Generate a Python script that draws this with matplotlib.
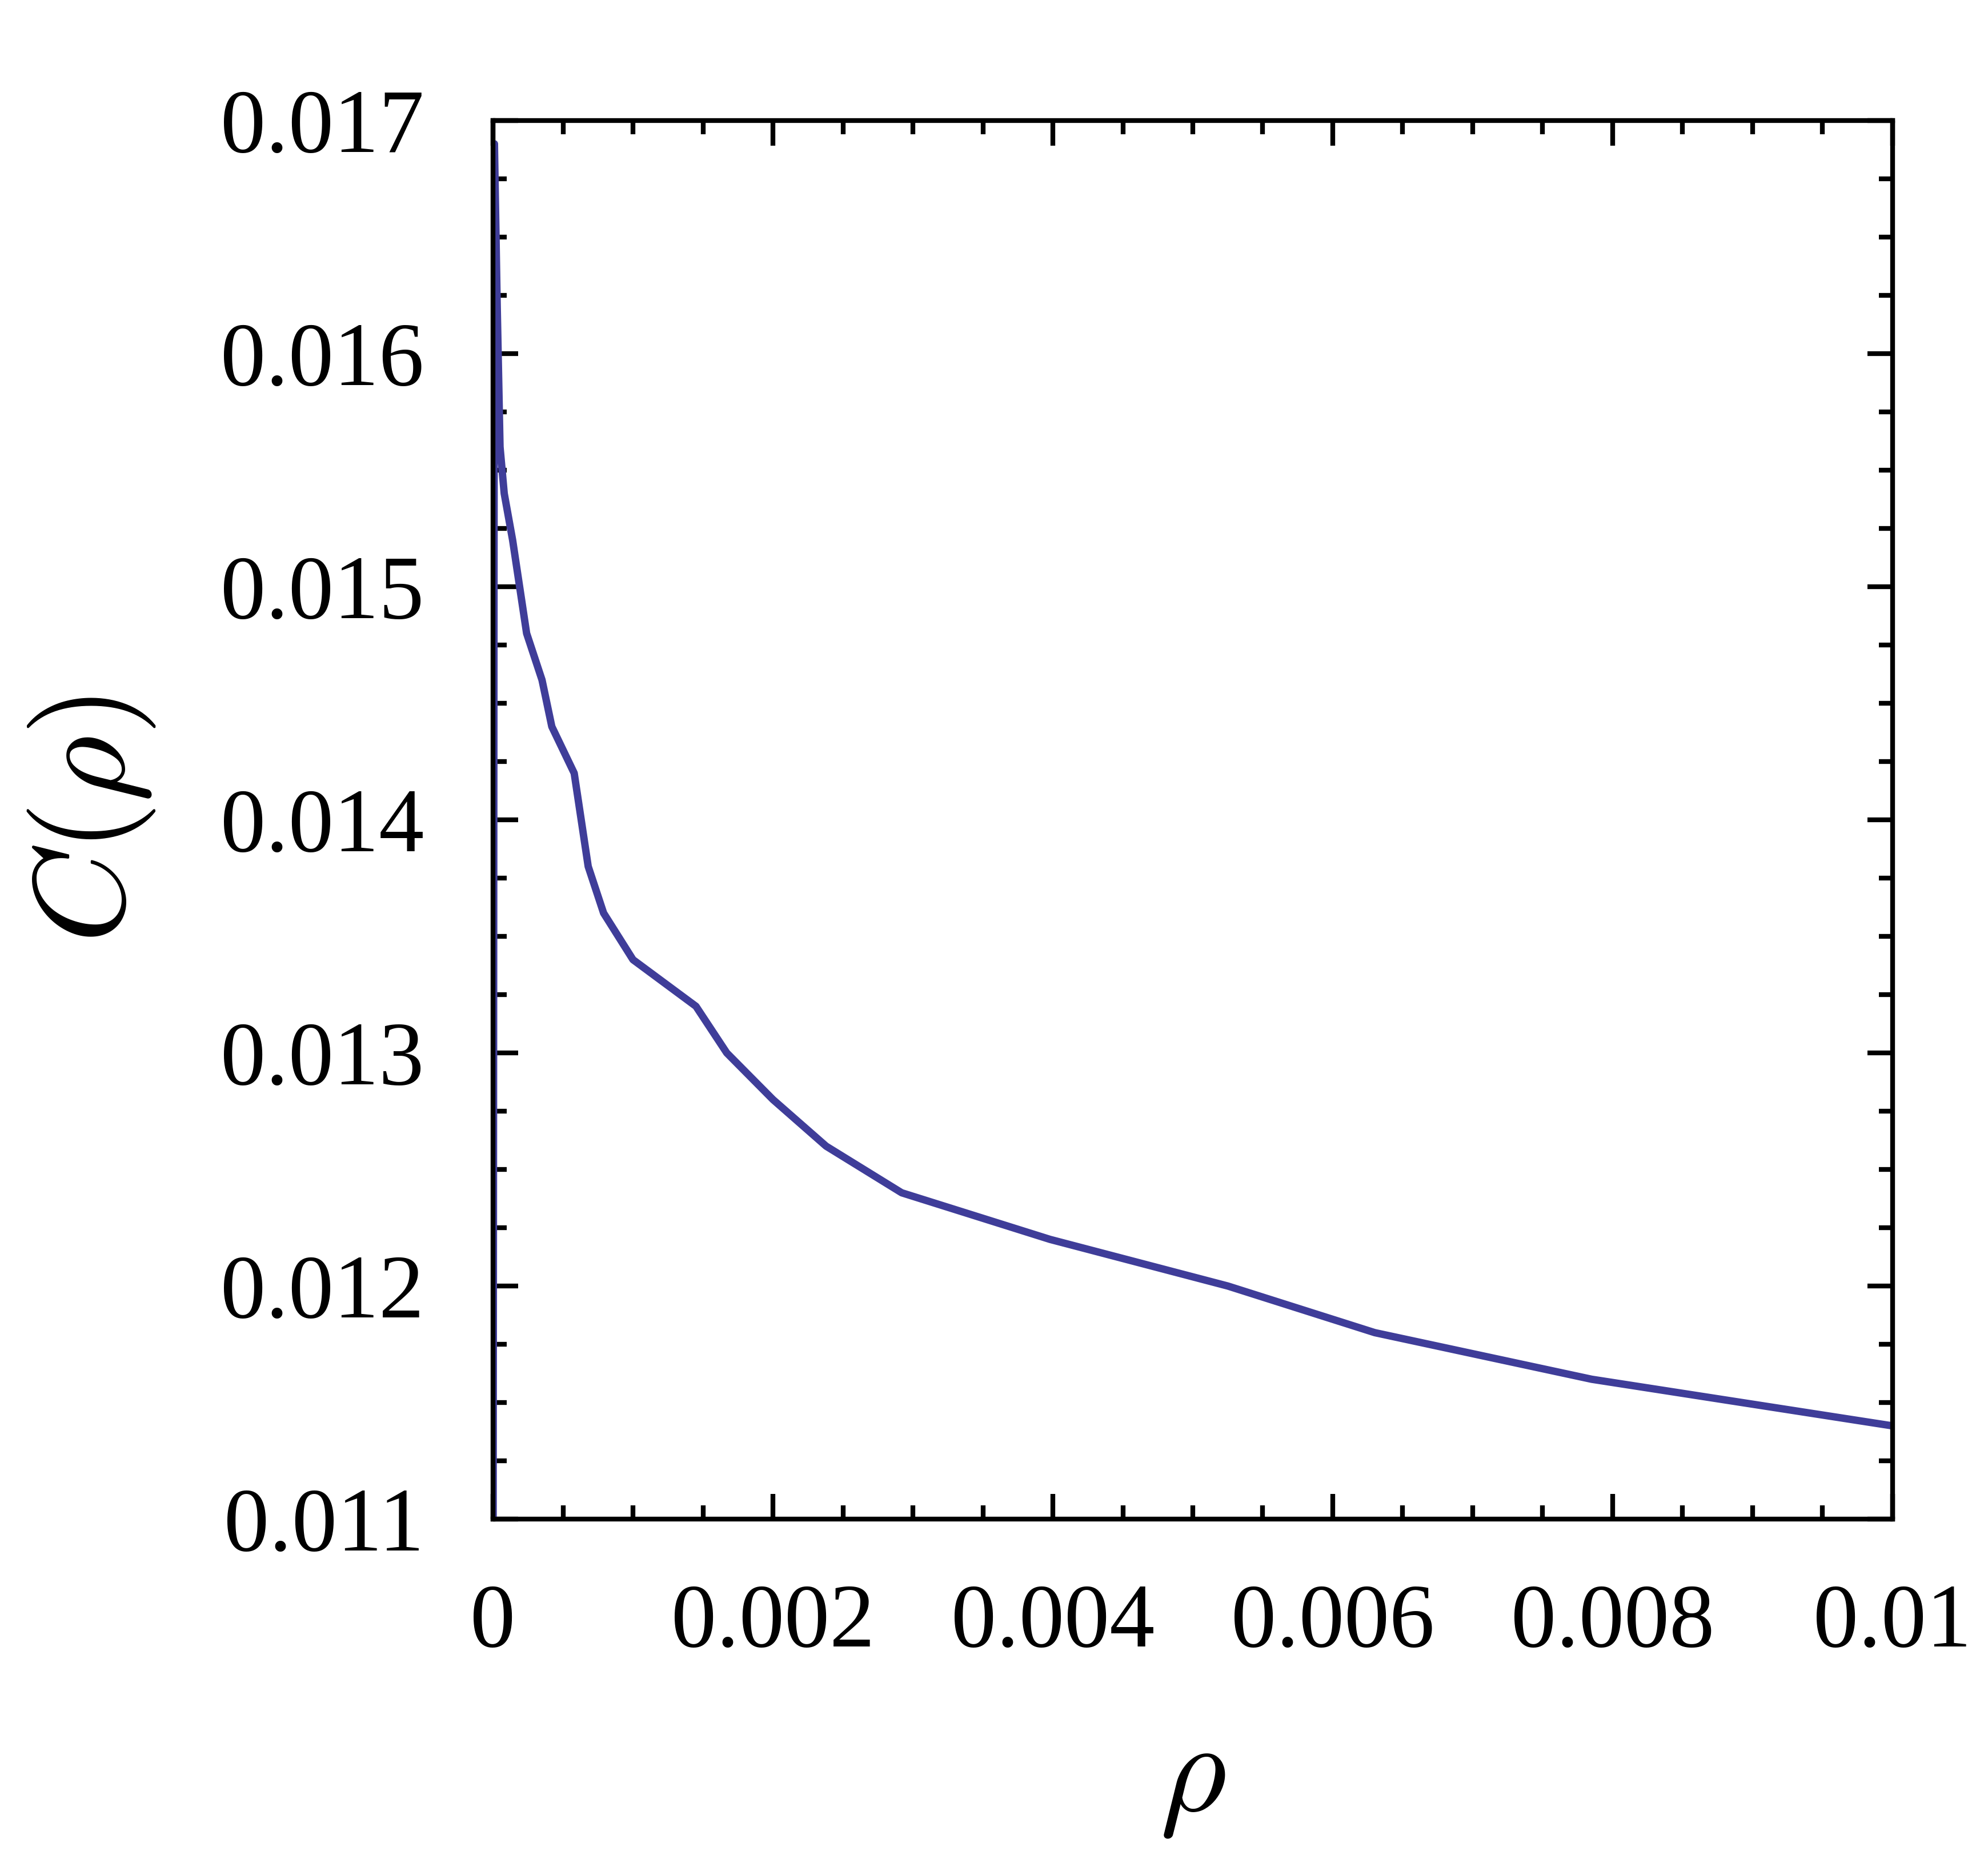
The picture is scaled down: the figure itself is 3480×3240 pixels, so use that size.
import numpy as np
import matplotlib.pyplot as plt
from matplotlib.ticker import MultipleLocator, FixedLocator, FixedFormatter

rho = [0.0, 0.00001, 0.00003, 0.00005, 0.00008, 0.00014, 0.00019, 0.00024,
       0.00035, 0.00042, 0.00058, 0.00068, 0.00079, 0.00100, 0.00145, 0.00167,
       0.00200, 0.00238, 0.00292, 0.00398, 0.00525, 0.00630, 0.00785, 0.01000]
C = [0.0105, 0.0169, 0.0162, 0.0156, 0.0154, 0.0152, 0.0150, 0.0148,
     0.0146, 0.0144, 0.0142, 0.0138, 0.0136, 0.0134, 0.0132, 0.0130,
     0.0128, 0.0126, 0.0124, 0.0122, 0.0120, 0.0118, 0.0116, 0.0114]

xticks = [0, 0.002, 0.004, 0.006, 0.008, 0.01]
xticklabels = ["0", "0.002", "0.004", "0.006", "0.008", "0.01"]
yticks = [0.011, 0.012, 0.013, 0.014, 0.015, 0.016, 0.017]
yticklabels = ["0.011", "0.012", "0.013", "0.014", "0.015", "0.016", "0.017"]

plt.rcParams["font.family"] = "Liberation Serif"
plt.rcParams["mathtext.fontset"] = "cm"

fig = plt.figure(figsize=(11.6, 10.8), dpi=300)
ax = fig.add_axes([0.248, 0.1793, 0.704, 0.7556])

ax.plot(rho, C, color="#3f3d99", lw=3.1)

ax.set_xlim(0, 0.01)
ax.set_ylim(0.011, 0.017)

ax.xaxis.set_major_locator(FixedLocator(xticks))
ax.xaxis.set_major_formatter(FixedFormatter(xticklabels))
ax.yaxis.set_major_locator(FixedLocator(yticks))
ax.yaxis.set_major_formatter(FixedFormatter(yticklabels))
ax.xaxis.set_minor_locator(MultipleLocator(0.0005))
ax.yaxis.set_minor_locator(MultipleLocator(0.00025))

ax.tick_params(which="both", direction="in", top=True, right=True, width=2)
ax.tick_params(which="major", length=10.6, labelsize=38)
ax.tick_params(which="minor", length=5.8)
ax.tick_params(axis="y", which="major", pad=29)
ax.tick_params(axis="x", which="major", pad=27)

for s in ax.spines.values():
    s.set_linewidth(2)

ax.set_xlabel(r"$\rho$", fontsize=54)
ax.set_ylabel(r"$C(\rho)$", fontsize=54)
ax.xaxis.set_label_coords(0.5, -0.146)
ax.yaxis.set_label_coords(-0.24, 0.5)

fig.savefig("out.png", dpi=300)
